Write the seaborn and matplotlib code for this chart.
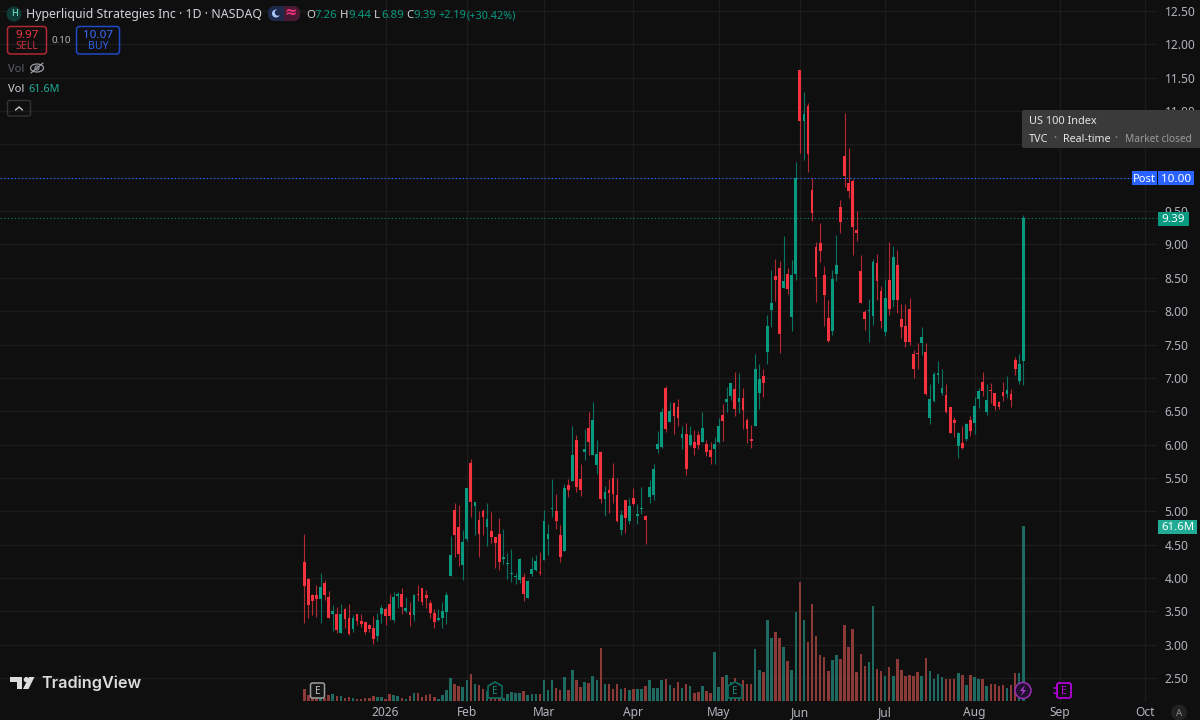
import numpy as np
import pandas as pd
import matplotlib
matplotlib.use("Agg")
import matplotlib.pyplot as plt
from matplotlib.patches import FancyBboxPatch, Circle, Polygon, Rectangle, Ellipse
import seaborn as sns

# ---------- data ----------
directions = ("RRRRGRRGRG" "RRGRRRRRGG" "RRGGRGRGRR" "RRRGGGGRRG" "GRGRRGRRRG"
              "GGGGRGGGRG" "GGRRGRGRRG" "RGGRGRRRGR" "GRGGRGGGGR" "GRRGRGRRGR"
              "RGGRGGRGRR" "RGGRGGRRGR" "GGRGRRRRRR" "GGRRRRRRRG" "GRRGRGRRRR"
              "RRGRGGGGRR" "RGRGRGGRGR" "RRRGRRGG")
highs = [4.655,4.005,3.76,3.895,4.07,3.97,3.80,3.60,3.565,3.615,
         3.545,3.605,3.44,3.465,3.455,3.34,3.305,3.425,3.47,3.59,
         3.57,3.76,3.795,3.795,3.845,3.71,3.645,3.76,3.895,3.855,
         3.82,3.67,3.53,3.53,3.645,3.785,4.625,5.12,5.095,4.72,
         5.35,5.78,5.145,5.005,5.03,5.12,4.985,4.62,4.895,4.73,
         4.37,4.43,4.07,4.295,4.07,3.97,4.32,4.344,4.39,5.02,
         4.81,5.483,5.258,4.80,5.403,5.483,6.273,6.148,5.713,6.228,
         6.483,6.633,6.063,5.898,5.378,5.483,5.718,5.503,5.013,5.168,
         5.193,5.343,5.103,5.368,4.938,5.463,5.703,6.198,6.543,6.878,
         6.633,6.633,6.678,6.278,6.318,6.273,6.218,6.208,6.483,6.068,
         6.038,6.108,6.398,6.603,6.858,6.928,7.093,7.073,6.843,6.393,
         6.293,7.357,7.207,7.127,7.94,8.615,8.775,8.755,9.125,8.645,
         8.765,10.23,11.615,11.28,11.115,9.99,9.03,9.325,8.68,8.165,
         8.61,9.135,9.665,10.965,10.44,9.985,9.50,8.835,8.015,8.185,
         8.775,8.85,8.375,8.475,9.03,8.975,8.915,8.106,8.10,8.20,
         7.416,7.516,7.756,7.516,6.901,7.091,7.246,7.126,6.901,6.556,
         6.416,6.181,6.281,6.316,6.426,6.706,6.841,7.081,6.901,6.916,
         6.771,6.651,6.936,7.026,6.826,7.306,7.356,9.44]
body_tops = [4.245,3.985,3.745,3.75,3.86,3.92,3.71,3.505,3.455,3.465,
             3.535,3.40,3.40,3.46,3.35,3.335,3.29,3.25,3.365,3.55,
             3.53,3.61,3.71,3.76,3.755,3.555,3.49,3.745,3.755,3.845,
             3.75,3.625,3.48,3.405,3.50,3.745,4.345,5.015,4.765,4.54,
             5.35,5.73,5.14,4.87,5.01,4.885,4.70,4.615,4.665,4.32,
             4.22,4.07,4.03,4.285,4.01,3.95,4.14,4.25,4.09,4.86,
             4.66,5.048,5.003,4.65,5.348,5.393,5.843,6.063,5.483,5.928,
             6.248,6.368,5.853,5.893,5.283,5.318,5.498,5.243,4.948,5.168,
             5.083,5.198,4.953,5.048,4.933,5.368,5.633,6.008,6.493,6.843,
             6.503,6.628,6.568,6.158,6.158,6.138,6.038,6.138,6.248,6.008,
             5.923,6.008,6.278,6.443,6.683,6.918,6.833,6.703,6.693,6.368,
             6.083,7.137,6.987,7.027,7.78,8.115,8.52,8.645,8.45,8.555,
             8.535,9.99,11.615,10.955,11.07,9.815,8.955,9.025,8.545,7.89,
             8.485,8.69,9.56,10.325,9.92,9.945,9.215,8.60,7.99,8.015,
             8.735,8.72,8.30,8.20,8.465,8.815,8.69,7.881,7.775,8.03,
             7.351,7.366,7.611,7.386,6.681,7.051,7.076,6.841,6.741,6.556,
             6.361,6.166,6.021,6.301,6.371,6.581,6.801,6.941,6.666,6.816,
             6.766,6.641,6.781,6.816,6.756,7.261,7.201,9.39]
body_bots = [3.885,3.595,3.66,3.685,3.685,3.745,3.405,3.46,3.215,3.18,
             3.39,3.155,3.23,3.355,3.305,3.195,3.24,3.085,3.13,3.455,
             3.43,3.43,3.365,3.73,3.565,3.50,3.44,3.44,3.74,3.645,
             3.705,3.47,3.345,3.37,3.395,3.495,4.035,4.645,4.36,4.195,
             4.59,5.145,5.08,4.655,4.915,4.765,4.615,4.53,4.245,4.28,
             4.21,4.06,4.01,3.97,3.76,3.705,4.06,4.12,4.07,4.27,
             4.58,5.038,4.848,4.32,4.408,5.318,5.458,5.368,5.313,5.888,
             6.038,5.843,5.693,5.188,5.188,5.268,5.258,4.853,4.713,4.898,
             4.853,5.108,4.933,5.038,4.873,5.218,5.243,5.938,5.958,6.233,
             6.338,6.433,6.403,6.098,5.633,5.993,5.948,5.993,6.038,5.893,
             5.813,5.933,6.038,6.358,6.633,6.733,6.533,6.633,6.518,6.233,
             6.053,6.282,6.767,6.917,7.39,8.015,8.46,7.655,8.345,8.335,
             7.915,8.555,10.85,10.85,10.355,9.475,8.515,8.905,8.24,7.55,
             7.705,8.56,9.33,10.02,9.80,9.265,9.175,8.125,7.88,8.005,
             7.93,8.45,7.855,7.68,8.03,8.165,8.165,7.766,7.54,7.535,
             7.131,7.351,7.516,6.751,6.396,6.651,7.041,6.776,6.486,6.176,
             6.326,5.981,5.946,6.081,6.201,6.326,6.681,6.801,6.486,6.806,
             6.576,6.556,6.726,6.761,6.666,7.131,6.951,7.26]
lows = [3.33,3.405,3.445,3.42,3.33,3.665,3.40,3.21,3.17,3.18,
        3.245,3.145,3.185,3.295,3.26,3.155,3.195,3.01,3.06,3.32,
        3.295,3.37,3.345,3.545,3.455,3.47,3.285,3.36,3.66,3.59,
        3.555,3.405,3.245,3.36,3.255,3.305,4.03,4.32,4.185,3.97,
        4.56,4.92,4.645,4.32,4.645,4.485,4.52,4.15,4.12,4.21,
        3.985,3.935,3.91,3.93,3.66,3.70,4.03,4.11,4.04,4.27,
        4.35,4.913,4.738,4.24,4.403,5.218,5.453,5.293,5.233,5.768,
        5.848,5.843,5.563,5.128,4.933,4.978,5.118,4.843,4.648,4.673,
        4.813,5.093,4.813,4.958,4.508,5.123,5.173,5.873,5.953,6.193,
        6.333,6.163,6.283,5.928,5.543,5.978,5.848,5.928,6.033,5.828,
        5.713,5.703,6.018,6.053,6.483,6.668,6.433,6.473,6.233,6.023,
        5.953,6.277,6.532,6.707,7.21,7.765,8.15,7.375,8.345,8.25,
        7.705,8.465,10.375,10.265,10.09,9.35,8.14,8.735,7.78,7.53,
        7.64,8.455,9.175,9.865,9.70,8.84,9.05,8.115,7.715,7.54,
        7.79,8.165,7.74,7.625,7.94,8.065,7.965,7.591,7.465,7.49,
        7.001,7.131,7.341,6.741,6.306,6.641,6.916,6.741,6.466,6.166,
        6.116,5.801,5.936,6.056,6.131,6.156,6.551,6.726,6.441,6.616,
        6.516,6.526,6.656,6.701,6.556,7.046,6.901,6.89]
volumes_m = [4.2,2.1,1.2,1.1,0.9,0.9,2.0,2.3,1.6,1.6,
             1.1,1.5,1.1,0.8,0.8,0.9,1.1,1.8,1.3,1.3,
             0.7,2.3,2.0,1.8,1.1,0.8,1.8,2.9,2.7,1.4,
             2.0,2.6,1.3,0.8,2.2,3.8,8.1,6.0,5.3,4.9,
             7.3,9.5,5.9,5.5,4.2,3.5,3.3,2.5,1.9,1.2,
             2.3,3.2,2.9,2.9,3.5,2.0,2.6,2.5,2.5,7.3,
             3.9,7.5,4.6,4.0,8.4,3.8,10.8,7.4,4.9,6.7,
             6.3,8.8,7.3,18.5,6.1,6.1,4.3,6.0,4.3,4.6,
             3.8,4.1,4.2,4.3,5.4,7.3,4.6,4.6,7.3,7.9,
             5.7,4.5,6.6,4.7,5.9,5.3,2.8,3.2,5.3,3.5,
             2.8,17.1,4.9,8.3,9.3,6.8,8.1,6.2,7.3,5.9,
             5.9,18.2,10.9,10.2,28.4,22.3,24.4,22.3,19.1,14.0,
             10.9,31.3,41.8,28.4,20.9,34.1,22.9,16.2,15.6,10.4,
             14.4,16.2,14.8,26.6,19.1,25.5,10.1,16.5,12.4,13.6,
             33.4,11.3,10.6,8.7,12.1,8.9,14.8,11.0,8.7,9.3,
             8.8,10.1,8.9,15.0,10.4,7.9,9.5,8.3,7.9,7.9,
             7.9,9.7,9.3,5.5,9.3,8.3,7.9,7.9,5.3,6.0,
             6.0,5.3,5.7,4.6,5.7,9.7,9.7,61.6]
month_positions = [20, 40, 59, 81, 102, 122, 143, 165, 186, 207]
month_labels = ["2026", "Feb", "Mar", "Apr", "May", "Jun", "Jul", "Aug", "Sep", "Oct"]
price_ticks = [2.5, 3.0, 3.5, 4.0, 4.5, 5.0, 5.5, 6.0, 6.5, 7.0, 7.5, 8.0, 8.5,
               9.0, 9.5, 10.0, 10.5, 11.0, 11.5, 12.0, 12.5]
covered_ticks = [10.0, 10.5]  # hidden behind the tooltip and the Post label in the reference
last_price = 9.39
post_price = 10.00
last_volume = 61.6

# ---------- style ----------
BG = "#0f0f0f"
GRID = "#1c1c1c"
RED = "#f7323f"
GREEN = "#089981"
RED_V = "#8b3a37"
GREEN_V = "#1f6a60"
BLUE = "#2962ff"
TXT = "#b2b5be"

sns.set_theme(style="dark", rc={"figure.facecolor": BG, "axes.facecolor": BG,
                                "savefig.facecolor": BG})
plt.rcParams["font.family"] = ["Noto Sans", "DejaVu Sans"]

df = pd.DataFrame({"idx": np.arange(len(highs)), "high": highs, "top": body_tops,
                   "bot": body_bots, "low": lows, "vol": volumes_m,
                   "dir": list(directions)})

W, H = 1200, 720
fig = plt.figure(figsize=(12, 7.2), dpi=100, facecolor=BG)
AX_R, AX_B = 1157, 702
rect = [0, 1 - AX_B / H, AX_R / W, AX_B / H]
PX_PER_BAR = 4.062
X0 = 304.3
xlim = (-X0 / PX_PER_BAR, (AX_R - X0) / PX_PER_BAR)
PX_PER_UNIT = 66.7
ylim = (12.5 - (AX_B - 11) / PX_PER_UNIT, 12.5 + 11 / PX_PER_UNIT)

ax = fig.add_axes(rect, facecolor=BG)
ax.set_xlim(*xlim)
ax.set_ylim(*ylim)
for s in ax.spines.values():
    s.set_visible(False)
ax.yaxis.tick_right()
ax.set_yticks(price_ticks)
ax.set_yticklabels(["" if p in covered_ticks else f"{p:.2f}" for p in price_ticks],
                   fontsize=8.6, color=TXT)
ax.set_xticks(month_positions)
ax.set_xticklabels(month_labels, fontsize=8.6, color=TXT)
ax.get_xticklabels()[0].set_fontweight("bold")
ax.tick_params(axis="both", length=0)
ax.tick_params(axis="y", pad=5.5)
ax.tick_params(axis="x", pad=3)
ax.grid(True, color=GRID, lw=1.0)
ax.set_axisbelow(True)

# volume pane, same pixels
vax = fig.add_axes(rect, facecolor="none")
vpx = 175 / last_volume
sns.barplot(data=df, x="idx", y="vol", hue="dir", palette={"R": RED_V, "G": GREEN_V},
            native_scale=True, width=0.62, saturation=1, legend=False, dodge=False,
            linewidth=0, ax=vax)
vax.set_xlim(*xlim)
vax.set_ylim(-1 / vpx, 701 / vpx)
vax.set_axis_off()

# candles
cols = df["dir"].map({"R": RED, "G": GREEN})
ax.vlines(df["idx"], df["low"], df["high"], colors=cols, lw=0.8, alpha=0.72, zorder=3)
ax.bar(df["idx"], np.maximum(df["top"] - df["bot"], 0.018), bottom=df["bot"], width=0.68,
       color=cols, linewidth=0, zorder=4)
ax.hlines(post_price, xlim[0], (1133 - X0) / PX_PER_BAR, colors=BLUE, lw=0.8,
          linestyles=(0, (1.2, 2.0)), zorder=2)
ax.hlines(last_price, xlim[0], xlim[1], colors=GREEN, lw=0.8, alpha=0.75,
          linestyles=(0, (1.2, 2.0)), zorder=2)

# ---------- overlay in pixel coordinates ----------
ov = fig.add_axes([0, 0, 1, 1], facecolor="none")
ov.set_xlim(0, W)
ov.set_ylim(H, 0)
ov.set_axis_off()


def rbox(x0, y0, x1, y1, r=3, fc="none", ec="none", lw=1.0, z=5):
    p = FancyBboxPatch((x0 + r, y0 + r), x1 - x0 - 2 * r, y1 - y0 - 2 * r,
                       boxstyle=f"round,pad={r},rounding_size={r}", fc=fc, ec=ec, lw=lw, zorder=z)
    ov.add_patch(p)


def t(x, y, s, c="#d1d4dc", size=8.6, ha="left", weight="normal", z=6, **kw):
    ov.text(x, y + 2.5, s, color=c, fontsize=size, ha=ha, va="center", fontweight=weight, zorder=z, **kw)


# header
ov.add_patch(Circle((14, 14), 7.5, fc="#0e3b36", ec="none", zorder=5))
t(14, 11.5, "H", "#7ff5dc", 6.5, "center", "bold")
t(26, 12, "Hyperliquid Strategies Inc · 1D · NASDAQ", "#d1d4dc", 8.85)
rbox(268, 6, 300, 21, r=7, fc="#1d2a4a")
rbox(284, 6, 300, 21, r=7, fc="#4a1a33")
ov.add_patch(Rectangle((284, 6), 6, 15, fc="#4a1a33", ec="none", zorder=5))
ov.add_patch(Circle((276, 13.5), 4, fc="#a8c7fa", ec="none", zorder=6))
ov.add_patch(Circle((278, 12.5), 3.2, fc="#1d2a4a", ec="none", zorder=7))
t(291, 10.5, "≈", "#f7317f", 10.5, "center", "bold")
ohlc = [(306, "O", "#d1d4dc"), (314, "7.26", GREEN), (340, "H", "#d1d4dc"), (348.5, "9.44", GREEN),
        (374, "L", "#d1d4dc"), (381, "6.89", GREEN), (406, "C", "#d1d4dc"), (413.5, "9.39", GREEN)]
for x, s, c in ohlc:
    t(x, 13, s, c, 8.2)
t(438, 13, "+2.19", GREEN, 7.8)
t(467, 13, "(+30.42%)", GREEN, 7.8)

# sell / buy
rbox(7.5, 26.5, 46.5, 54, r=3, ec="#b22833", lw=1.1)
t(27, 32.5, "9.97", "#f23645", 8.4, "center", "semibold")
t(27, 44, "SELL", "#c9303c", 7.6, "center")
t(61, 38, "0.10", "#b2b5be", 7, "center", "semibold")
rbox(76.5, 26.5, 119.5, 54, r=3, ec="#2049c4", lw=1.1)
t(98, 32.5, "10.07", "#3a6cff", 8.4, "center", "semibold")
t(98, 44, "BUY", "#2f5fe8", 7.6, "center")

# Vol rows
t(8, 67, "Vol", "#5d606b", 8)
ov.add_patch(Ellipse((37, 68), 13, 8, fc="none", ec="#9a9da6", lw=0.9, zorder=6))
ov.add_patch(Circle((37, 68), 2, fc="none", ec="#9a9da6", lw=0.8, zorder=6))
ov.plot([31, 43], [73, 63], color="#9a9da6", lw=0.9, zorder=7)
t(8, 87, "Vol", "#d1d4dc", 8)
t(28.5, 87, "61.6M", "#22ab94", 7.8)
rbox(7.5, 100.5, 30.5, 116, r=2, ec="#333333", lw=1)
ov.plot([15.5, 19, 22.5], [110, 107, 110], color="#c8c8c8", lw=1, zorder=6)

# tooltip
rbox(1022, 110, 1202, 148, r=2, fc="#3a3a3a", z=5)
t(1029, 118.5, "US 100 Index", "#e6e6e6", 7.9)
t(1029, 136.5, "TVC", "#e6e6e6", 7.9)
t(1053, 136.5, "•", "#8a8a8a", 5.5, "left")
t(1063, 136.5, "Real-time", "#e6e6e6", 7.7)
t(1114, 136.5, "•", "#8a8a8a", 5.5, "left")
t(1125, 136.5, "Market closed", "#9a9a9a", 7.3)

# price labels
ov.add_patch(Rectangle((1132, 171), 25, 14, fc=BLUE, ec="none", zorder=5))
t(1144.5, 176.5, "Post", "white", 8, "center")
ov.add_patch(Rectangle((1158, 171), 36, 14, fc=BLUE, ec="none", zorder=5))
t(1176, 176.5, f"{post_price:.2f}", "white", 8.4, "center")
ov.add_patch(Rectangle((1158, 212), 31, 14, fc=GREEN, ec="none", zorder=5))
t(1173.5, 217.5, f"{last_price:.2f}", "white", 8.4, "center")
ov.add_patch(Rectangle((1158, 520), 39, 14, fc="#22ab94", ec="none", zorder=5))
t(1177.5, 525.5, f"{last_volume:.1f}M", "white", 8.2, "center")

# auto-scale button
ov.add_patch(Circle((1179, 712.5), 8, fc="#222222", ec="none", zorder=5))
t(1179, 710.5, "A", "#8a8a8a", 7, "center")

# event markers
rbox(310.5, 683, 324.5, 698, r=2, fc="#161616", ec="#9c9c9c", lw=1.1)
t(317.5, 688.5, "E", "#bdbdbd", 7.2, "center", "semibold")
for cx in (495, 735):
    ov.add_patch(Polygon([(cx - 7, 698), (cx - 7, 686), (cx, 682), (cx + 7, 686), (cx + 7, 698)],
                         closed=True, fc=BG, ec="#0c6e60", lw=1.2, zorder=5))
    t(cx, 689, "E", "#0f8c7a", 7.2, "center", "semibold")
ov.add_patch(Circle((1023, 690.5), 8, fc="#221030", ec="#9a2fb5", lw=1.1, zorder=5))
ov.add_patch(Polygon([(1025, 685), (1020, 691), (1023, 691), (1021, 696), (1026, 690), (1023, 690)],
                     closed=True, fc="#b040cc", ec="none", zorder=6))
rbox(1057, 683, 1071, 698, r=2, fc=BG, ec="#b300d6", lw=1.3)
ov.plot([1054, 1057], [688, 688], color="#b300d6", lw=1.1, zorder=5)
ov.plot([1054, 1057], [693, 693], color="#b300d6", lw=1.1, zorder=5)
t(1064, 688.5, "E", "#c800ee", 7.2, "center", "semibold")

# logo
LOGO = "#dcdcdc"
ov.add_patch(Polygon([(10, 677), (22, 677), (22, 689), (16.5, 689), (16.5, 682), (10, 682)],
                     closed=True, fc=LOGO, ec="none", zorder=6))
ov.add_patch(Circle((26.3, 679.6), 2.6, fc=LOGO, ec="none", zorder=6))
ov.add_patch(Polygon([(29, 677), (34.5, 677), (28.5, 689), (23, 689)],
                     closed=True, fc=LOGO, ec="none", zorder=6))
ov.text(41, 683.5, "TradingView", color=LOGO, fontsize=11.7, fontweight="semibold",
        family=["Inter", "DejaVu Sans"], va="center", ha="left", zorder=6)

fig.savefig("out.png", dpi=100, facecolor=BG)
